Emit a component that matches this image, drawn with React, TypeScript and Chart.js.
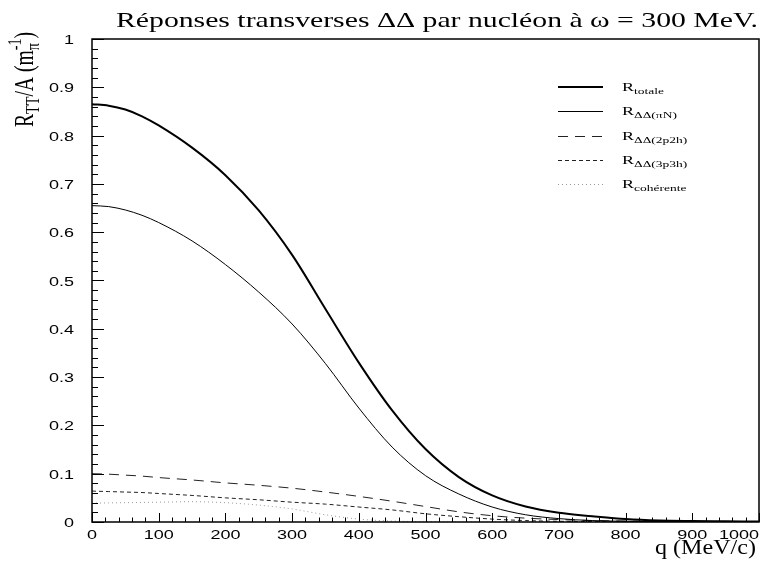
import React, { useEffect, useRef } from "react";
import { Chart, registerables } from "chart.js";

Chart.register(...registerables);

// ---------- data ----------
const Q = [0, 25, 50, 75, 100, 150, 200, 250, 300, 350, 400, 450, 500, 550, 600, 650, 700, 750, 800, 850, 900, 950, 1000];
const R_TOTALE = [0.865, 0.862, 0.854, 0.84, 0.821, 0.775, 0.718, 0.645, 0.553, 0.441, 0.33, 0.231, 0.151, 0.093, 0.055, 0.032, 0.019, 0.012, 0.006, 0.003, 0.002, 0.0015, 0.001];
const R_PIN = [0.655, 0.653, 0.646, 0.635, 0.62, 0.582, 0.533, 0.476, 0.41, 0.328, 0.236, 0.155, 0.096, 0.058, 0.031, 0.015, 0.007, 0.003, 0.0015, 0.001, 0.0005, 0.0003, 0.0002];
const R_2P2H = [0.1, 0.099, 0.097, 0.095, 0.092, 0.087, 0.081, 0.076, 0.07, 0.062, 0.053, 0.043, 0.032, 0.021, 0.013, 0.008, 0.005, 0.003, 0.002, 0.001, 0.0008, 0.0005, 0.0003];
const R_3P3H = [0.064, 0.063, 0.062, 0.061, 0.059, 0.055, 0.05, 0.046, 0.041, 0.037, 0.031, 0.025, 0.017, 0.011, 0.006, 0.003, 0.0015, 0.001, 0.0005, 0.0003, 0.0002, 0.0001, 0.0001];
const R_COH = [0.039, 0.0395, 0.04, 0.0405, 0.041, 0.042, 0.04, 0.035, 0.027, 0.015, 0.006, 0.002, 0.0005, 0, 0, 0, 0, 0, 0, 0, 0, 0, 0];

const SERIES_MAIN = ["R", "R", "R", "R", "R"];
const SERIES_SUB = ["totale", "ΔΔ(πN)", "ΔΔ(2p2h)", "ΔΔ(3p3h)", "cohérente"];

const X_TICKS = [0, 100, 200, 300, 400, 500, 600, 700, 800, 900, 1000];
const X_TICK_LABELS = ["0", "100", "200", "300", "400", "500", "600", "700", "800", "900", "1000"];
const Y_TICKS = [0, 0.1, 0.2, 0.3, 0.4, 0.5, 0.6, 0.7, 0.8, 0.9, 1];
const Y_TICK_LABELS = ["0", "0.1", "0.2", "0.3", "0.4", "0.5", "0.6", "0.7", "0.8", "0.9", "1"];
const X_MINOR_STEP = 20;
const Y_MINOR_STEP = 0.02;

const TITLE = "Réponses transverses ΔΔ par nucléon à ω = 300 MeV.";
const X_TITLE = "q (MeV/c)";
const Y_TITLE_PARTS: { t: string; k: "n" | "sub" | "sup" }[] = [
  { t: "R", k: "n" },
  { t: "TT", k: "sub" },
  { t: "/A (m", k: "n" },
  { t: "π", k: "sub" },
  { t: "-1", k: "sup" },
  { t: ")", k: "n" },
];

const SERIES = [R_TOTALE, R_PIN, R_2P2H, R_3P3H, R_COH];
const STYLES = [
  { color: "#000", width: 2, dash: [] as number[] },
  { color: "#000", width: 1, dash: [] as number[] },
  { color: "#222", width: 1, dash: [10, 7] },
  { color: "#222", width: 1, dash: [4, 3] },
  { color: "#999", width: 1, dash: [1, 3] },
];

const SX = 1.5; // horizontal stretch of the reference typography
const SANS = "'Liberation Sans', Arial, sans-serif";
const SERIF = "'Liberation Serif', 'Times New Roman', serif";

function sText(ctx: CanvasRenderingContext2D, text: string, x: number, y: number, align: "left" | "center" | "right", sx: number) {
  const w = ctx.measureText(text).width * sx;
  let x0 = x;
  if (align === "center") x0 = x - w / 2;
  else if (align === "right") x0 = x - w;
  ctx.save();
  ctx.translate(x0, y);
  ctx.scale(sx, 1);
  ctx.textAlign = "left";
  ctx.fillText(text, 0, 0);
  ctx.restore();
  return w;
}

const decorPlugin = {
  id: "decor",
  afterDatasetsDraw(chart: any) {
    const ctx: CanvasRenderingContext2D = chart.ctx;
    const { left, right, top, bottom } = chart.chartArea;
    const xs = chart.scales.x;
    const ys = chart.scales.y;
    ctx.save();
    ctx.strokeStyle = "#000";
    ctx.lineWidth = 1.5;
    ctx.strokeRect(left, top, right - left, bottom - top);
    ctx.lineWidth = 1;
    ctx.beginPath();
    for (let v = xs.min; v <= xs.max + 1e-6; v += X_MINOR_STEP) {
      const px = Math.round(xs.getPixelForValue(v)) + 0.5;
      const major = X_TICKS.some((t) => Math.abs(t - v) < 1e-6);
      const len = major ? 9 : 4.5;
      ctx.moveTo(px, bottom);
      ctx.lineTo(px, bottom - len);
    }
    for (let v = ys.min; v <= ys.max + 1e-6; v += Y_MINOR_STEP) {
      const py = Math.round(ys.getPixelForValue(v)) + 0.5;
      const major = Y_TICKS.some((t) => Math.abs(t - v) < 1e-6);
      const len = major ? 12 : 6;
      ctx.moveTo(left, py);
      ctx.lineTo(left + len, py);
    }
    ctx.stroke();
    ctx.restore();
  },
  afterDraw(chart: any) {
    const ctx: CanvasRenderingContext2D = chart.ctx;
    const { left, right, bottom } = chart.chartArea;
    const xs = chart.scales.x;
    const ys = chart.scales.y;
    ctx.save();
    ctx.fillStyle = "#000";
    ctx.textBaseline = "alphabetic";

    // tick labels
    ctx.font = `12px ${SANS}`;
    X_TICKS.forEach((v, i) => {
      const px = xs.getPixelForValue(v);
      const w = ctx.measureText(X_TICK_LABELS[i]).width * SX;
      if (px + w / 2 > right) sText(ctx, X_TICK_LABELS[i], right, bottom + 17, "right", SX);
      else sText(ctx, X_TICK_LABELS[i], px, bottom + 17, "center", SX);
    });
    Y_TICKS.forEach((v, i) => {
      const py = ys.getPixelForValue(v);
      sText(ctx, Y_TICK_LABELS[i], left - 18, py + 5, "right", SX);
    });

    // title
    ctx.font = `22px ${SERIF}`;
    const tw = ctx.measureText(TITLE).width;
    const tsx = (right - 1 - 116) / tw;
    sText(ctx, TITLE, 116, 27, "left", tsx);

    // x title
    ctx.font = `20px ${SERIF}`;
    const xw = ctx.measureText(X_TITLE).width;
    sText(ctx, X_TITLE, right - 3, 554, "right", 101 / xw);

    // y title (rotated, stretched across)
    const mainF = `18px ${SERIF}`;
    const smallF = `13px ${SERIF}`;
    let total = 0;
    const widths: number[] = [];
    for (let i = 0; i < Y_TITLE_PARTS.length; i++) {
      const p = Y_TITLE_PARTS[i];
      ctx.font = p.k === "n" ? mainF : smallF;
      widths.push(ctx.measureText(p.t).width);
    }
    const advances: number[] = [];
    for (let i = 0; i < Y_TITLE_PARTS.length; i++) {
      const p = Y_TITLE_PARTS[i];
      const next = Y_TITLE_PARTS[i + 1];
      if (p.k === "sub" && next && next.k === "sup") advances.push(0);
      else if (p.k === "sup" && i > 0 && Y_TITLE_PARTS[i - 1].k === "sub") advances.push(Math.max(widths[i], widths[i - 1]));
      else advances.push(widths[i]);
      total += advances[i];
    }
    const along = 95 / total;
    ctx.save();
    ctx.translate(33, 127);
    ctx.scale(SX, 1);
    ctx.rotate(-Math.PI / 2);
    ctx.scale(along, 1);
    let cx = 0;
    for (let i = 0; i < Y_TITLE_PARTS.length; i++) {
      const p = Y_TITLE_PARTS[i];
      ctx.font = p.k === "n" ? mainF : smallF;
      const dy = p.k === "sub" ? 4 : p.k === "sup" ? -8 : 0;
      ctx.fillText(p.t, cx, dy);
      cx += advances[i];
    }
    ctx.restore();

    // legend
    const lx0 = 558, lx1 = 603, tx = 622, ly0 = 87, lgap = 24.3;
    chart.data.datasets.forEach((ds: any, i: number) => {
      const y = ly0 + i * lgap;
      ctx.save();
      ctx.strokeStyle = ds.borderColor;
      ctx.lineWidth = ds.borderWidth;
      ctx.setLineDash(ds.borderDash || []);
      ctx.beginPath();
      const yy = Math.round(y) + (ds.borderWidth === 2 ? 0 : 0.5);
      ctx.moveTo(lx0, yy);
      ctx.lineTo(lx1, yy);
      ctx.stroke();
      ctx.restore();
      ctx.font = `12px ${SERIF}`;
      const rw = sText(ctx, SERIES_MAIN[i], tx, y + 4, "left", SX);
      ctx.font = `9px ${SERIF}`;
      sText(ctx, SERIES_SUB[i], tx + rw, y + 7, "left", SX);
    });
    ctx.restore();
  },
};

export default function App() {
  const ref = useRef<HTMLCanvasElement | null>(null);
  useEffect(() => {
    if (!ref.current) return;
    const chart = new Chart(ref.current, {
      type: "line",
      data: {
        datasets: SERIES.map((s, i) => ({
          label: SERIES_MAIN[i] + "_" + SERIES_SUB[i],
          data: s.map((v, j) => ({ x: Q[j], y: v })),
          borderColor: STYLES[i].color,
          borderWidth: STYLES[i].width,
          borderDash: STYLES[i].dash,
          pointRadius: 0,
          fill: false,
          cubicInterpolationMode: "monotone" as const,
        })),
      },
      options: {
        animation: false,
        responsive: false,
        devicePixelRatio: 1,
        layout: { padding: { top: 39, right: 21, left: 0, bottom: 0 } },
        plugins: {
          legend: { display: false },
          title: { display: false },
          tooltip: { enabled: false },
        },
        scales: {
          x: {
            type: "linear",
            min: 0,
            max: 1000,
            grid: { display: false, drawTicks: false },
            border: { display: false },
            ticks: { display: false, stepSize: 100 },
            afterFit: (s: any) => {
              s.height = 45;
            },
          },
          y: {
            type: "linear",
            min: 0,
            max: 1,
            grid: { display: false, drawTicks: false },
            border: { display: false },
            ticks: { display: false, stepSize: 0.1 },
            afterFit: (s: any) => {
              s.width = 92;
            },
          },
        },
      },
      plugins: [decorPlugin],
    } as any);
    return () => chart.destroy();
  }, []);
  return (
    <div style={{ position: "fixed", left: 0, top: 0, width: 780, height: 567, background: "#fff" }}>
      <canvas ref={ref} width={780} height={567} style={{ display: "block" }} />
    </div>
  );
}
